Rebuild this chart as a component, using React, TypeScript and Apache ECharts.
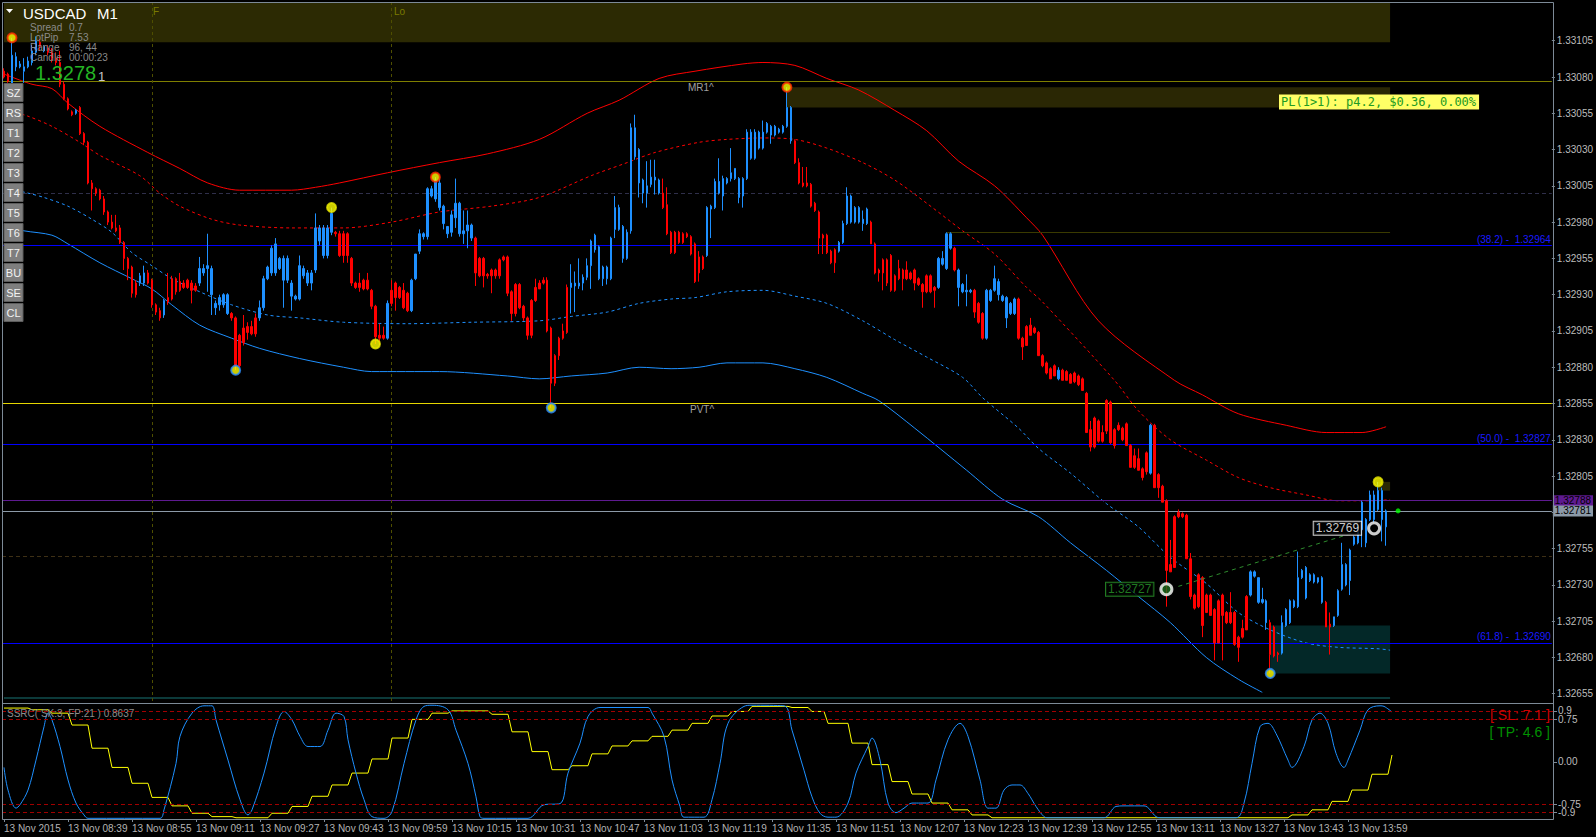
import React, { useEffect, useRef } from 'react';
import * as echarts from 'echarts';

// Prices are stored as points above 1.32000 (1 point = 0.00001)
const BASE = 1.32;
const PT = 100000;
const px = (v: number) => +(BASE + v / PT).toFixed(5);

// Candles [open, high, low, close] in points, one per minute bar starting 13 Nov 08:23
const candlesA: number[][] = [
  [1084,1086,1079,1080],[1082,1083,1076,1077],[1075,1107,1074,1095],[1087,1097,1084,1094],[1087,1091,1086,1089],
  [1084,1093,1076,1087],[1087,1094,1086,1091],[1090,1102,1088,1098],[1097,1108,1095,1105],[1104,1106,1098,1101],
  [1098,1102,1097,1101],[1100,1102,1095,1097],[1097,1100,1090,1093],[1093,1097,1088,1090],[1090,1098,1073,1075],
  [1075,1077,1064,1065],[1065,1066,1057,1058],[1056,1057,1053,1054],[1055,1058,1054,1057],[1059,1060,1040,1041],
  [1041,1042,1033,1035],[1035,1036,1006,1007],[1007,1009,988,1003],[1003,1004,998,1000],[1002,1003,995,996],
  [996,998,985,987],[987,988,978,980],[980,985,975,976],[976,985,973,974],[976,978,965,966],
  [966,967,947,955],[955,956,940,948],[949,950,928,931],[938,940,928,930],[938,945,936,943],
  [938,950,936,945],[945,947,937,938],[940,941,921,923],[923,924,916,918],[919,921,912,914],
  [916,927,914,926],[928,945,923,925],[941,943,926,927],[941,942,930,932],[939,945,932,933],
  [938,940,934,935],[940,941,934,935],[938,940,924,933],[936,938,932,933],[938,956,936,948],
  [945,951,943,948],[948,972,932,950],[930,950,916,948],[921,926,916,924],[923,930,919,928],
  [923,931,921,930],[917,931,916,930],[917,918,912,914],[914,915,878,881],[902,903,880,881],
  [907,916,895,897],[908,911,899,904],[908,912,902,903],[914,917,901,903],[914,926,912,921],
  [921,943,919,941],[941,950,940,949],[945,964,943,962],[945,969,943,965],[948,956,947,955],
  [940,957,921,955],[940,957,938,955],[929,940,919,938],[927,930,926,929],[927,957,926,950],
  [943,950,941,948],[938,947,936,945],[938,947,933,945],[947,986,945,976],[967,978,964,976],
  [957,978,955,976],[957,978,955,976],[973,990,971,986],[973,974,970,972],[972,974,956,957],
  [972,974,952,957],
];
const candlesB: number[][] = [
  [972,973,952,957],[955,956,936,938],[938,939,934,935],[938,945,932,935],[940,941,933,934],
  [940,945,933,934],[933,934,920,922],[922,923,896,901],[902,910,895,900],[902,908,899,900],
  [900,926,899,924],[933,940,922,924],[938,939,919,928],[935,936,927,928],[933,938,920,921],
  [931,932,918,919],[919,941,918,940],[941,958,940,958],[960,975,958,972],[970,973,968,972],
  [970,1004,968,1003],[998,1005,997,1003],[996,1011,994,1009],[990,1010,988,1007],[979,992,975,991],
  [972,977,969,977],[973,988,970,985],[983,1010,976,993],[972,994,970,993],[972,988,965,974],
  [974,988,962,978],[969,979,967,978],[969,970,936,945],[955,956,942,943],[955,956,935,943],
  [944,945,941,943],[947,948,931,943],[947,948,941,943],[954,955,941,943],[956,957,953,954],
  [956,957,929,931],[932,933,912,917],[937,938,915,917],[937,938,920,921],[922,923,912,914],
  [914,915,899,902],[926,927,900,902],[935,941,925,926],[938,940,934,934],[940,942,937,938],
  [940,942,904,905],[907,908,852,869],[888,889,867,869],[900,901,885,888],[905,910,899,900],
  [935,937,903,904],[935,951,917,938],[936,946,918,938],[936,955,934,938],[938,944,933,942],
  [942,955,940,950],[950,968,934,967],[961,972,959,971],[941,964,940,963],[941,950,936,949],
  [941,950,937,949],[941,970,940,969],[975,998,969,990],[975,992,974,990],[955,978,952,977],
  [955,975,954,973],[974,1048,972,1045],[1025,1054,1023,1045],[1007,1031,997,1030],[1000,1010,993,1009],
  [1000,1022,990,1005],[1006,1023,1004,1011],[1009,1023,999,1011],[1000,1010,999,1009],[1000,1010,989,990],
  [992,1004,971,972],[973,974,958,959],[973,974,958,959],[973,974,965,966],[972,973,965,966],
  [972,973,969,970],[970,971,957,958],[965,966,938,939],
];
const candlesC: number[][] = [
  [956,960,939,945],[956,957,947,948],[957,991,956,990],[989,992,969,991],[990,1010,989,1008],
  [1000,1024,999,1008],[998,1012,988,1010],[1007,1011,1006,1010],[1010,1031,1008,1014],[1010,1017,1009,1017],
  [997,1011,993,1010],[998,1011,990,1010],[1010,1044,1009,1042],[1024,1044,1023,1042],[1024,1044,1023,1042],
  [1031,1043,1030,1042],[1031,1050,1030,1042],[1042,1049,1041,1048],[1040,1047,1034,1046],[1040,1047,1039,1046],
  [1042,1045,1041,1044],[1042,1047,1041,1046],[1046,1073,1045,1059],[1036,1060,1034,1059],[1036,1037,1020,1021],
  [1021,1024,1006,1007],[1007,1018,1004,1005],[1007,1018,1004,1005],[1006,1007,990,991],[993,994,987,988],
  [987,988,958,969],[971,972,958,969],[971,972,958,959],[960,961,951,952],[961,962,945,952],
  [960,967,959,966],[966,981,965,979],[979,1004,978,998],[980,999,979,998],[980,991,979,990],
  [980,991,979,990],[979,988,974,982],[979,990,978,989],[980,981,965,965],[965,966,944,945],
  [947,948,939,945],[954,955,933,945],[954,955,936,938],[957,958,932,933],[943,944,932,933],
  [948,954,940,941],[947,948,933,941],[947,953,940,941],[945,946,940,941],[947,948,933,938],
  [941,942,936,937],[937,938,921,932],[943,944,931,932],[943,944,931,932],[935,936,921,933],
  [935,956,934,955],[951,960,950,955],[948,973,947,972],[962,973,961,972],[962,963,946,947],
  [935,948,922,947],[932,938,931,937],[932,944,922,933],[932,934,931,933],[933,934,914,918],
  [924,925,910,911],[917,918,899,900],[900,934,899,933],[926,934,925,933],[933,950,932,941],
  [930,941,926,939],[926,930,925,929],[914,929,907,928],[917,925,916,924],[917,928,916,927],
  [927,928,899,900],[900,901,885,894],[908,909,895,895],[909,914,902,902],[907,908,903,904],
  [904,905,888,888],[888,889,880,881],
];
const candlesD: number[][] = [
  [883,884,875,876],[879,880,872,872],[881,882,874,874],[872,880,871,878],[878,879,871,871],
  [877,878,871,871],[875,876,869,869],[876,877,869,870],[874,875,867,868],[872,873,864,864],
  [862,863,835,835],[837,843,822,825],[845,846,824,825],[843,844,828,829],[835,840,828,829],
  [857,858,834,836],[856,857,827,828],[837,838,824,826],[840,842,836,837],[838,839,829,830],
  [841,842,826,826],[826,827,811,811],[819,824,810,811],[817,824,809,809],[810,811,802,804],
  [821,822,806,808],[807,841,806,840],[840,841,797,797],[806,807,790,797],[798,799,787,787],
  [788,789,715,740],[744,761,739,739],[777,778,742,742],[780,782,776,777],[779,780,776,777],
  [778,779,748,748],[748,752,720,722],[723,724,713,714],[737,738,714,715],[735,736,694,702],
  [723,724,711,711],[723,724,709,709],[713,714,678,690],[719,720,690,690],[723,724,678,709],
  [711,712,703,704],[711,725,703,704],[711,712,688,689],[694,695,677,687],[700,706,693,694],
  [722,723,699,699],[723,740,722,739],[736,740,735,739],[718,735,717,735],[718,728,717,720],
  [704,720,699,719],[704,706,669,682],[701,702,680,681],[683,684,677,682],[683,709,682,704],
  [702,714,701,713],[704,720,703,719],[715,720,714,719],[715,753,714,735],[735,741,734,740],
  [721,743,720,742],[733,738,732,737],[732,738,731,737],[732,735,731,735],[718,736,717,735],
  [718,719,701,701],[703,711,682,701],[702,708,701,708],[709,727,708,726],[727,759,726,744],
  [730,745,729,744],[733,755,723,754],[758,764,757,763],[759,772,758,770],[768,788,756,787],
  [759,776,756,775],[775,795,774,792],[775,795,773,792],[782,801,781,795],[775,797,760,795],
  [770,782,757,781],
];
const candles = [...candlesA, ...candlesB, ...candlesC, ...candlesD];

// Envelope / moving-average lines: [bar, points]
const redUpper = [[0,1082],[7,1075],[12,1072],[16,1062],[24,1046],[36,1028],[44,1017],[51,1007],[59,1002],[72,1002],[78,1004],[84,1007],[96,1014],[109,1021],[121,1027],[134,1037],[146,1055],[154,1064],[164,1079],[173,1084],[185,1089],[190,1090],[198,1088],[206,1079],[214,1071],[223,1057],[231,1043],[239,1022],[248,1005],[256,983],[260,971],[274,912],[293,871],[300,861],[309,848],[321,840],[331,835],[340,835],[346,839]];
const redMid = [[0,1058],[6,1053],[12,1046],[19,1035],[24,1026],[34,1012],[39,1000],[44,991],[52,982],[59,978],[72,976],[85,976],[97,980],[109,987],[122,991],[134,997],[147,1012],[155,1020],[163,1028],[174,1035],[181,1037],[190,1038],[198,1037],[206,1031],[215,1021],[223,1009],[231,993],[240,974],[248,958],[256,935],[260,925],[278,871],[284,850],[292,830],[301,816],[309,804],[317,797],[326,792],[334,788],[344,788],[347,789]];
const blueMid = [[0,1004],[6,1000],[10,997],[16,991],[22,982],[27,973],[32,959],[37,950],[42,941],[49,932],[57,923],[66,916],[74,914],[85,911],[101,910],[117,911],[134,912],[142,915],[151,918],[159,924],[167,927],[173,928],[181,932],[190,933],[198,929],[206,924],[215,912],[223,899],[231,887],[240,873],[245,859],[254,838],[259,824],[267,807],[276,786],[284,770],[292,749],[301,731],[309,711],[317,699],[326,690],[334,687],[344,686],[347,685]];
const blueLower = [[0,977],[5,974],[12,971],[16,965],[24,952],[32,941],[37,934],[42,923],[49,909],[57,900],[64,893],[74,886],[85,880],[92,877],[109,877],[126,874],[134,872],[142,874],[151,876],[159,880],[167,879],[174,880],[181,883],[190,883],[198,879],[206,873],[215,862],[219,857],[228,838],[241,809],[250,789],[259,777],[267,759],[276,740],[284,722],[292,704],[301,680],[309,665],[315,656]];

// Signals (sun markers): [bar, points, kind]
const signals: [number, number, string][] = [[2,1107,'high'],[58,878,'low'],[82,990,'plain'],[93,896,'plain'],[108,1011,'high'],[137,852,'low'],[196,1073,'high'],[317,669,'low'],[344,801,'plain']];

// Horizontal price levels (points)
const levelMR1 = 1077;
const levelRound = 1000;
const fib382 = 964;
const levelPVT = 855;
const fib500 = 827;
const levelAsk = 788;
const levelBid = 781;
const levelMid = 750;
const fib618 = 690;

// Oscillator sub window
const ssrcLine = [[0,-0.1],[1,-0.5],[3,-0.82],[4,-0.76],[6,-0.5],[8,0.03],[10,0.62],[11,0.86],[12,0.74],[14,0.27],[16,-0.32],[18,-0.73],[20,-0.94],[21,-1.0],[39,-1.0],[40,-0.85],[43,-0.03],[44,0.45],[47,0.86],[50,0.99],[52,0.99],[53,0.74],[56,0.03],[59,-0.67],[61,-0.94],[62,-0.85],[65,-0.2],[68,0.62],[70,0.89],[72,0.74],[74,0.45],[76,0.27],[79,0.27],[81,0.56],[83,0.86],[85,0.8],[86,0.39],[88,-0.2],[90,-0.67],[92,-0.97],[95,-1.0],[97,-0.88],[100,-0.03],[103,0.74],[105,0.98],[107,1.0],[111,0.92],[113,0.56],[116,-0.03],[118,-0.62],[119,-0.97],[120,-1.0],[131,-1.0],[135,-0.76],[139,-0.74],[141,-0.2],[144,0.33],[146,0.8],[149,0.96],[161,0.96],[162,0.86],[165,0.45],[167,-0.32],[169,-0.79],[170,-0.98],[175,-0.98],[177,-0.67],[179,-0.03],[181,0.68],[185,0.98],[187,1.0],[195,0.99],[197,0.56],[200,-0.15],[202,-0.62],[204,-0.91],[206,-0.98],[208,-0.98],[211,-0.73],[213,-0.2],[216,0.27],[217,0.42],[219,0.03],[221,-0.73],[223,-0.9],[225,-0.82],[227,-0.73],[231,-0.73],[233,-0.32],[236,0.39],[239,0.68],[241,0.45],[244,-0.32],[246,-0.82],[248,-0.82],[250,-0.5],[252,-0.41],[254,-0.41],[256,-0.56],[258,-0.79],[260,-0.97],[261,-0.99],[275,-0.99],[278,-0.79],[280,-0.78],[285,-0.78],[288,-0.97],[289,-0.99],[308,-0.99],[310,-0.73],[312,-0.03],[314,0.62],[316,0.68],[318,0.5],[321,0.03],[322,-0.1],[325,0.27],[327,0.74],[329,0.86],[331,0.68],[333,0.15],[335,-0.1],[336,0.03],[339,0.56],[341,0.92],[344,0.99],[345,0.98],[347,0.88]];
const ssrcSignal = [[0,0.95],[6,0.95],[7,0.92],[11,0.92],[12,0.86],[16,0.86],[17,0.65],[21,0.65],[22,0.24],[26,0.24],[27,-0.1],[31,-0.1],[32,-0.38],[36,-0.38],[37,-0.63],[41,-0.63],[42,-0.78],[46,-0.78],[47,-0.91],[51,-0.91],[52,-0.97],[57,-0.97],[58,-0.99],[66,-0.99],[67,-0.91],[71,-0.91],[72,-0.79],[76,-0.79],[77,-0.61],[81,-0.61],[82,-0.41],[86,-0.41],[87,-0.2],[91,-0.2],[92,0.05],[96,0.05],[97,0.42],[101,0.42],[102,0.75],[106,0.75],[107,0.86],[111,0.86],[112,0.9],[121,0.9],[122,0.84],[126,0.84],[127,0.53],[131,0.53],[132,0.18],[136,0.18],[137,-0.14],[141,-0.14],[142,-0.07],[146,-0.07],[147,0.14],[151,0.14],[152,0.28],[156,0.28],[157,0.37],[161,0.37],[162,0.45],[166,0.45],[167,0.56],[171,0.56],[172,0.68],[176,0.68],[177,0.81],[181,0.81],[182,0.89],[186,0.89],[187,0.98],[196,0.98],[197,0.96],[201,0.96],[202,0.89],[205,0.89],[206,0.68],[211,0.68],[212,0.33],[216,0.33],[217,-0.05],[221,-0.05],[222,-0.35],[226,-0.35],[227,-0.57],[231,-0.57],[232,-0.73],[236,-0.73],[237,-0.85],[241,-0.85],[242,-0.94],[246,-0.94],[247,-0.99],[321,-0.99],[322,-0.94],[326,-0.94],[327,-0.85],[331,-0.85],[332,-0.7],[336,-0.7],[337,-0.5],[341,-0.5],[342,-0.22],[346,-0.22],[347,0.12]];

const timeLabels = ['13 Nov 2015','13 Nov 08:39','13 Nov 08:55','13 Nov 09:11','13 Nov 09:27','13 Nov 09:43','13 Nov 09:59','13 Nov 10:15','13 Nov 10:31','13 Nov 10:47','13 Nov 11:03','13 Nov 11:19','13 Nov 11:35','13 Nov 11:51','13 Nov 12:07','13 Nov 12:23','13 Nov 12:39','13 Nov 12:55','13 Nov 13:11','13 Nov 13:27','13 Nov 13:43','13 Nov 13:59'];
const priceTicks = [1.33105,1.3308,1.33055,1.3303,1.33005,1.3298,1.32955,1.3293,1.32905,1.3288,1.32855,1.3283,1.32805,1.3278,1.32755,1.3273,1.32705,1.3268,1.32655];
const priceLabels = priceTicks.filter((p) => p !== 1.3278);
const oscTicks = [0.9, 0.75, 0, -0.75, -0.9];
const oscOuter = [0.9, -0.9];
const oscInner = [0.75, 0, -0.75];
const buttonLabels = ['SZ','RS','T1','T2','T3','T4','T5','T6','T7','BU','SE','CL'];
const infoRows = [['Spread','0.7'],['LotPip','7.53'],['Range','96, 44'],['Candle','00:00:23']];

const N_CAT = 388;
const cats = Array.from({ length: N_CAT }, (_, i) => String(i));
const FONT = 'Liberation Sans, DejaVu Sans, sans-serif';
const FRAME = '#7d8a97';

const toLine = (arr: number[][]) => arr.map(([b, v]) => [b, px(v)]);

export default function App() {
  const ref = useRef<HTMLDivElement>(null);
  useEffect(() => {
    document.body.style.margin = '0';
    document.body.style.background = '#000';
    const chart = echarts.init(ref.current!, null, { renderer: 'svg' });
    const tickEvery = (i: number) => i % 16 === 0 && i / 16 < timeLabels.length;

    const hLine = (v: number, color: string, type: any = 'solid', width = 1, label: any = null) => ({
      yAxis: px(v),
      lineStyle: { color, type, width },
      label: label ? { show: true, ...label } : { show: false },
    });
    const fibLabel = (t: string) => ({ position: 'insideEndTop', formatter: t, color: '#1a1aff', fontSize: 10, distance: 1, fontFamily: FONT });
    const tagLabel = (t: string, bg: string) => ({ position: 'end', formatter: t, color: '#000', backgroundColor: bg, padding: [1, 2, 0, 2], fontSize: 10, distance: 1, fontFamily: FONT });

    const graphics: any[] = [];
    const frameLine = (x1: number, y1: number, x2: number, y2: number) => ({ type: 'line', shape: { x1, y1, x2, y2 }, style: { stroke: FRAME, lineWidth: 1 }, z: 50, silent: true });
    graphics.push(frameLine(2.5, 2.5, 1553.5, 2.5));
    graphics.push(frameLine(2.5, 2.5, 2.5, 819.5));
    graphics.push(frameLine(1553.5, 2.5, 1553.5, 819.5));
    graphics.push(frameLine(2.5, 703.5, 1553.5, 703.5));
    graphics.push(frameLine(2.5, 819.5, 1553.5, 819.5));
    buttonLabels.forEach((t, i) => {
      const y = 83.5 + 20 * i;
      graphics.push({ type: 'rect', shape: { x: 4, y, width: 19, height: 18 }, style: { fill: '#7e7e7e', stroke: '#5c5c5c', lineWidth: 1 }, z: 60 });
      graphics.push({ type: 'text', x: 13.5, y: y + 9.5, style: { text: t, fill: '#f2f2f2', font: `11px ${FONT}`, align: 'center', verticalAlign: 'middle' }, z: 61 });
    });
    graphics.push({ type: 'polygon', shape: { points: [[6, 9], [13, 9], [9.5, 13]] }, style: { fill: '#ffffff' }, z: 60 });
    graphics.push({ type: 'text', x: 23, y: 13, style: { text: 'USDCAD', fill: '#ffffff', font: `15px ${FONT}`, verticalAlign: 'middle' }, z: 60 });
    graphics.push({ type: 'text', x: 97, y: 13, style: { text: 'M1', fill: '#ffffff', font: `15px ${FONT}`, verticalAlign: 'middle' }, z: 60 });
    infoRows.forEach(([k, v], i) => {
      graphics.push({ type: 'text', x: 30, y: 27.5 + 10 * i, style: { text: k, fill: '#8a8a8a', font: `10px ${FONT}`, verticalAlign: 'middle' }, z: 60 });
      graphics.push({ type: 'text', x: 69, y: 27.5 + 10 * i, style: { text: v, fill: '#8a8a8a', font: `10px ${FONT}`, verticalAlign: 'middle' }, z: 60 });
    });
    graphics.push({ type: 'text', x: 35, y: 73, style: { text: '1.3278', fill: '#24b424', font: `20px ${FONT}`, verticalAlign: 'middle' }, z: 60 });
    graphics.push({ type: 'text', x: 98, y: 76, style: { text: '1', fill: '#c8c8c8', font: `13px ${FONT}`, verticalAlign: 'middle' }, z: 60 });
    graphics.push({ type: 'text', x: 153, y: 11, style: { text: 'F', fill: '#7a7a00', font: `10px ${FONT}`, verticalAlign: 'middle' }, z: 60 });
    graphics.push({ type: 'text', x: 394, y: 11, style: { text: 'Lo', fill: '#7a7a00', font: `10px ${FONT}`, verticalAlign: 'middle' }, z: 60 });
    graphics.push({ type: 'text', x: 688, y: 87, style: { text: 'MR1^', fill: '#a0a0a0', font: `10px ${FONT}`, verticalAlign: 'middle' }, z: 60 });
    graphics.push({ type: 'text', x: 690, y: 409, style: { text: 'PVT^', fill: '#a0a0a0', font: `10px ${FONT}`, verticalAlign: 'middle' }, z: 60 });
    graphics.push({ type: 'text', x: 1279, y: 102, style: { text: 'PL(1>1): p4.2, $0.36, 0.00%', fill: '#229a22', font: `12px DejaVu Sans Mono, monospace`, verticalAlign: 'middle', backgroundColor: '#ffff66', padding: [2, 3, 1, 2] }, z: 60 });
    graphics.push({ type: 'text', x: 7, y: 713, style: { text: 'SSRC( SK:3, FP:21 ) 0.8637', fill: '#8c8c8c', font: `10px ${FONT}`, verticalAlign: 'middle' }, z: 60 });
    graphics.push({ type: 'text', x: 1550, y: 715, style: { text: '[ SL: 7.1 ]', fill: '#cc0000', font: `14px ${FONT}`, align: 'right', verticalAlign: 'middle' }, z: 60 });
    graphics.push({ type: 'text', x: 1550, y: 732, style: { text: '[ TP: 4.6 ]', fill: '#009000', font: `14px ${FONT}`, align: 'right', verticalAlign: 'middle' }, z: 60 });

    const option: any = {
      animation: false,
      backgroundColor: '#000000',
      textStyle: { fontFamily: FONT },
      graphic: { elements: graphics },
      grid: [
        { left: 2, top: 3, width: 1552, height: 698, show: false },
        { left: 2, top: 704, width: 1552, height: 115, show: false },
      ],
      xAxis: [
        { type: 'category', gridIndex: 0, data: cats, show: false, boundaryGap: true, axisLine: { onZero: false } },
        {
          type: 'category', gridIndex: 1, data: cats, boundaryGap: true, position: 'bottom',
          axisLine: { show: false, onZero: false },
          axisTick: { show: true, interval: tickEvery, alignWithLabel: true, length: 3, lineStyle: { color: FRAME } },
          axisLabel: {
            interval: tickEvery, align: 'left', margin: 4, color: '#b4b4b4', fontSize: 10,
            formatter: (_v: string, i: number) => timeLabels[i / 16] ?? '',
          },
          splitLine: { show: false },
        },
      ],
      yAxis: [
        {
          type: 'value', gridIndex: 0, position: 'right', min: 1.3265, max: 1.33131,
          axisLine: { show: false }, splitLine: { show: false },
          axisTick: { show: true, customValues: priceTicks, length: 3, lineStyle: { color: FRAME } },
          axisLabel: { customValues: priceLabels, formatter: (v: number) => v.toFixed(5), color: '#bcbcbc', fontSize: 10, margin: 5, hideOverlap: false },
        },
        {
          type: 'value', gridIndex: 1, position: 'right', min: -1.012, max: 1.022,
          axisLine: { show: false }, splitLine: { show: false },
          axisTick: { show: true, customValues: oscTicks, length: 3, lineStyle: { color: FRAME } },
          axisLabel: { customValues: oscInner, formatter: (v: number) => (v === 0 ? '0.00' : String(v)), color: '#bcbcbc', fontSize: 10, margin: 4, hideOverlap: false },
        },
      ],
      series: [
        {
          name: 'zones', type: 'line', xAxisIndex: 0, yAxisIndex: 0, data: [], z: 1, silent: true,
          markArea: {
            silent: true,
            data: [
              [{ coord: [0, px(1104)], itemStyle: { color: '#2c2a03' } }, { coord: [347, 1.33131] }],
              [{ coord: [196, px(1059)], itemStyle: { color: '#2a2704' } }, { coord: [347, px(1073)] }],
              [{ coord: [317, px(669)], itemStyle: { color: '#032828' } }, { coord: [347, px(702)] }],
              [{ coord: [344, px(795)], itemStyle: { color: '#2a2704' } }, { coord: [347, px(801)] }],
            ],
          },
        },
        {
          name: 'levels', type: 'line', xAxisIndex: 0, yAxisIndex: 0, data: [], z: 2, silent: true,
          markLine: {
            silent: true, symbol: ['none', 'none'], animation: false, precision: 5,
            label: { show: false },
            data: [
              hLine(levelMR1, '#7f7f00'),
              hLine(levelRound, '#2f2f4a', [4, 3]),
              hLine(fib382, '#0000ff', 'solid', 1, fibLabel('(38.2) -  1.32964')),
              hLine(levelPVT, '#e6d600'),
              hLine(fib500, '#0000ff', 'solid', 1, fibLabel('(50.0) -  1.32827')),
              hLine(levelAsk, '#5e1a90', 'solid', 1, tagLabel('1.32788', '#5e1a90')),
              hLine(levelBid, '#8c9aa8', 'solid', 1, tagLabel('1.32781', '#8c9aa8')),
              hLine(levelMid, '#3e3015', [4, 3]),
              hLine(fib618, '#0000ff', 'solid', 1, fibLabel('(61.8) -  1.32690')),
              [{ coord: [236, px(973)], lineStyle: { color: '#3a3a00', width: 1, type: 'solid' } }, { coord: [347, px(973)] }],
              [{ coord: [0, px(652)], lineStyle: { color: '#0c3a3a', width: 2, type: 'solid' } }, { coord: [347, px(652)] }],
              { xAxis: 37, lineStyle: { color: '#4e4e00', type: [3, 3], width: 1 } },
              { xAxis: 97, lineStyle: { color: '#4e4e00', type: [3, 3], width: 1 } },
            ],
          },
        },
        { name: 'redUpper', type: 'line', xAxisIndex: 0, yAxisIndex: 0, data: toLine(redUpper), showSymbol: false, smooth: 0.3, lineStyle: { color: '#ff0000', width: 1 }, z: 3, silent: true },
        { name: 'redMid', type: 'line', xAxisIndex: 0, yAxisIndex: 0, data: toLine(redMid), showSymbol: false, smooth: 0.3, lineStyle: { color: '#ff0000', width: 1, type: [3, 3] }, z: 3, silent: true },
        { name: 'blueMid', type: 'line', xAxisIndex: 0, yAxisIndex: 0, data: toLine(blueMid), showSymbol: false, smooth: 0.3, lineStyle: { color: '#1e90ff', width: 1, type: [3, 3] }, z: 3, silent: true },
        { name: 'blueLower', type: 'line', xAxisIndex: 0, yAxisIndex: 0, data: toLine(blueLower), showSymbol: false, smooth: 0.3, lineStyle: { color: '#1e90ff', width: 1 }, z: 3, silent: true },
        {
          name: 'USDCAD', type: 'candlestick', xAxisIndex: 0, yAxisIndex: 0, barWidth: 2, z: 5, silent: true,
          data: candles.map(([o, h, l, c]) => [px(o), px(c), px(l), px(h)]),
          itemStyle: { color: '#1e90ff', color0: '#ff0000', borderColor: '#1e90ff', borderColor0: '#ff0000', borderWidth: 1 },
        },
        {
          name: 'tradeLine', type: 'line', xAxisIndex: 0, yAxisIndex: 0, data: [[294, px(729)], [338, px(766)]], showSymbol: false,
          lineStyle: { color: '#2e8b2e', width: 1, type: [4, 4] }, z: 6, silent: true,
        },
        {
          name: 'signals', type: 'scatter', xAxisIndex: 0, yAxisIndex: 0, z: 7, symbolSize: 9, silent: true,
          data: signals.map(([b, v, k]) => ({
            value: [b, px(v)],
            itemStyle: { color: '#ffff00', borderColor: k === 'high' ? '#ff2a00' : k === 'low' ? '#2a8cff' : '#e8e800', borderWidth: 2 },
          })),
        },
        {
          name: 'trades', type: 'scatter', xAxisIndex: 0, yAxisIndex: 0, z: 8, symbolSize: 11, silent: true,
          data: [
            { value: [291, px(727)], itemStyle: { color: '#1d6a1d', borderColor: '#ffffff', borderWidth: 3 },
              label: { show: true, position: 'left', distance: 6, formatter: '1.32727', color: '#2a9a2a', borderColor: '#2a9a2a', borderWidth: 1, backgroundColor: '#000', padding: [1, 2, 0, 2], fontSize: 12 } },
            { value: [343, px(769)], itemStyle: { color: '#000000', borderColor: '#ffffff', borderWidth: 3 },
              label: { show: true, position: 'left', distance: 6, formatter: '1.32769', color: '#ffffff', borderColor: '#ffffff', borderWidth: 1, backgroundColor: '#000', padding: [1, 2, 0, 2], fontSize: 12 } },
            { value: [349, px(781)], symbolSize: 5, itemStyle: { color: '#00ff00' } },
          ],
        },
        {
          name: 'oscLevels', type: 'line', xAxisIndex: 1, yAxisIndex: 1, data: [], z: 2, silent: true,
          markLine: {
            silent: true, symbol: ['none', 'none'], label: { show: false }, precision: 3,
            lineStyle: { color: '#a00000', type: [4, 3], width: 1 },
            data: oscTicks.filter((v) => v !== 0).map((v) => ({
              yAxis: v,
              label: oscOuter.includes(v)
                ? { show: true, position: 'end', distance: 4, formatter: String(v), color: '#bcbcbc', fontSize: 10, fontFamily: FONT }
                : { show: false },
            })),
          },
        },
        { name: 'ssrc', type: 'line', xAxisIndex: 1, yAxisIndex: 1, data: ssrcLine, showSymbol: false, smooth: 0.35, lineStyle: { color: '#1e90ff', width: 1 }, z: 4, silent: true },
        { name: 'signal', type: 'line', xAxisIndex: 1, yAxisIndex: 1, data: ssrcSignal, showSymbol: false, lineStyle: { color: '#ffff00', width: 1 }, z: 3, silent: true },
      ],
    };
    chart.setOption(option);
    return () => chart.dispose();
  }, []);
  return <div ref={ref} style={{ width: 1596, height: 837, background: '#000' }} />;
}
